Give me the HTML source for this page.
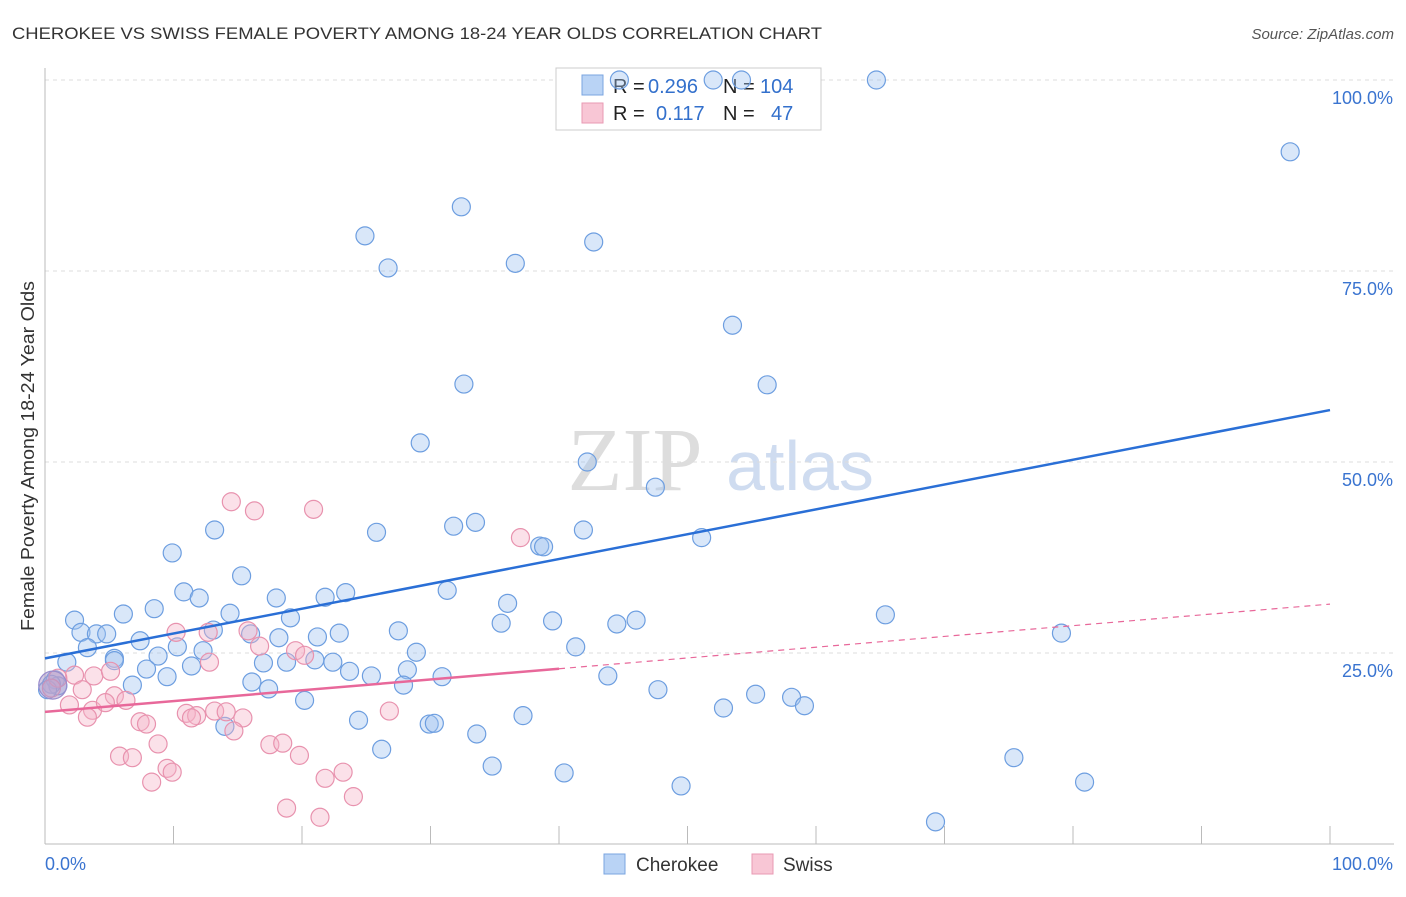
<!DOCTYPE html>
<html><head><meta charset="utf-8">
<style>
body{margin:0;background:#fff;font-family:"Liberation Sans",sans-serif;}
svg text{font-family:"Liberation Sans",sans-serif;}
</style></head>
<body>
<svg id="chart" width="1406" height="892" xmlns="http://www.w3.org/2000/svg">
<text x="12" y="39" font-size="17" fill="#333" textLength="810" lengthAdjust="spacingAndGlyphs">CHEROKEE VS SWISS FEMALE POVERTY AMONG 18-24 YEAR OLDS CORRELATION CHART</text>
<text x="1394" y="39" font-size="15" fill="#555" text-anchor="end" font-style="italic">Source: ZipAtlas.com</text>
<text x="0" y="0" transform="translate(34,456) rotate(-90)" font-size="18" fill="#333" text-anchor="middle" textLength="350" lengthAdjust="spacingAndGlyphs">Female Poverty Among 18-24 Year Olds</text>
<g>
<text x="635" y="490" font-size="90" fill="#ddd" text-anchor="middle" style="font-family:'Liberation Serif',serif">ZIP</text>
<text x="800" y="490" font-size="70" fill="#cfdcf0" text-anchor="middle">atlas</text>
</g>
<g id="grid"></g><g id="axes"></g>
<g>
<rect x="556" y="68" width="265" height="62" fill="#fff" stroke="#ccc"/>
<rect x="582" y="75" width="21" height="20" fill="#b9d3f5" stroke="#7aa5e0"/>
<text x="613" y="93" font-size="20" fill="#222">R =</text><text x="648" y="93" font-size="20" fill="#3370cc">0.296</text>
<text x="723" y="93" font-size="20" fill="#222">N =</text><text x="760" y="93" font-size="20" fill="#3370cc">104</text>
<rect x="582" y="103" width="21" height="20" fill="#f8c6d5" stroke="#e89ab3"/>
<text x="613" y="120" font-size="20" fill="#222">R =</text><text x="656" y="120" font-size="20" fill="#3370cc">0.117</text>
<text x="723" y="120" font-size="20" fill="#222">N =</text><text x="771" y="120" font-size="20" fill="#3370cc">47</text>
</g>
<g id="pts"></g><g id="lines"></g>
<g>
<rect x="604" y="854" width="21" height="20" fill="#b9d3f5" stroke="#7aa5e0"/>
<text x="636" y="871" font-size="19" fill="#333">Cherokee</text>
<rect x="752" y="854" width="21" height="20" fill="#f8c6d5" stroke="#e89ab3"/>
<text x="783" y="871" font-size="19" fill="#333">Swiss</text>
</g>
</svg>
<script>
const yTicks=[25,50,75,100];
const yTickLabels=["25.0%","50.0%","75.0%","100.0%"];
const xTickLabels=["0.0%","100.0%"];
const blueTrend=[24.3,56.8];
const pinkTrend=[17.3,31.4];
const pinkSolidEnd=40;
const blueX=[44.7,52.0,54.2,64.7,96.9,32.4,24.9,42.7,26.7,36.6,53.5,32.6,56.2,29.2,42.2,47.5,33.5,31.8,25.8,41.9,13.2,38.5,38.8,51.1,9.9,15.3,10.8,12.0,18.0,21.8,23.4,31.3,8.5,6.1,14.4,19.1,36.0,2.3,39.5,46.0,44.5,65.4,35.5,2.8,4.0,4.8,13.1,7.4,16.0,18.2,22.9,21.2,27.5,79.1,10.3,3.3,41.3,12.3,8.8,5.4,28.9,1.7,5.4,21.0,17.0,18.8,22.4,7.9,11.4,28.2,23.7,25.4,30.9,9.5,43.8,16.1,6.8,17.4,27.9,47.7,20.2,55.3,58.1,59.1,52.8,37.2,24.4,29.9,30.3,14.0,33.6,26.2,75.4,34.8,40.4,49.5,80.9,69.3,0.8,1.0,0.5,0.2];
const blueY=[100,100,100,100,90.6,83.4,79.6,78.8,75.4,76.0,67.9,60.2,60.1,52.5,50.0,46.7,42.1,41.6,40.8,41.1,41.1,39.0,38.9,40.1,38.1,35.1,33.0,32.2,32.2,32.3,32.9,33.2,30.8,30.1,30.2,29.6,31.5,29.3,29.2,29.3,28.8,30.0,28.9,27.7,27.5,27.5,28.0,26.6,27.5,27.0,27.6,27.1,27.9,27.6,25.8,25.7,25.8,25.3,24.6,24.3,25.1,23.8,24.0,24.1,23.7,23.8,23.8,22.9,23.3,22.8,22.6,22.0,21.9,21.9,22.0,21.2,20.8,20.3,20.8,20.2,18.8,19.6,19.2,18.1,17.8,16.8,16.2,15.7,15.8,15.4,14.4,12.4,11.3,10.2,9.3,7.6,8.1,2.9,21.5,20.7,20.9,20.2];
const pinkX=[14.5,16.3,20.9,37.0,10.2,12.7,15.8,16.7,19.5,20.2,12.8,2.3,1.0,3.8,2.9,5.1,1.9,3.7,5.4,3.3,6.3,4.7,7.4,7.9,11.0,11.8,11.4,13.2,14.1,15.4,14.7,26.8,8.8,5.8,6.8,9.5,9.9,17.5,18.5,19.8,8.3,21.8,23.2,24.0,18.8,21.4,0.5];
const pinkY=[44.8,43.6,43.8,40.1,27.7,27.7,27.9,25.9,25.3,24.7,23.8,22.1,21.7,22.0,20.2,22.6,18.2,17.5,19.4,16.6,18.8,18.5,16.0,15.7,17.1,16.8,16.5,17.4,17.3,16.5,14.8,17.4,13.1,11.5,11.3,9.9,9.4,13.0,13.2,11.6,8.1,8.6,9.4,6.2,4.7,3.5,20.4];
const NS="http://www.w3.org/2000/svg";
const X0=45,X1=1330,Y0=844,Y100=80;
function sx(v){return X0+(X1-X0)*v/100;}
function sy(v){return Y0-(Y0-Y100)*v/100;}
function mk(tag,attrs,parent){const e=document.createElementNS(NS,tag);for(const k in attrs)e.setAttribute(k,attrs[k]);parent.appendChild(e);return e;}
const grid=document.getElementById('grid'),axes=document.getElementById('axes'),pts=document.getElementById('pts'),lines=document.getElementById('lines');
yTicks.forEach((t,i)=>{
  const l=mk('line',{x1:X0,x2:1394,y1:sy(t),y2:sy(t),stroke:'#ddd','stroke-dasharray':'4,4'},grid);
  
  
  const tx=mk('text',{x:1393,y:sy(t)+24,'font-size':18,fill:'#3a74d0','text-anchor':'end'},axes);
  tx.textContent=yTickLabels[i];
  
  
});
const ax=mk('line',{x1:X0,x2:X0,y1:68,y2:Y0,stroke:'#bbb'},axes);


const bx=mk('line',{x1:X0,x2:1394,y1:Y0,y2:Y0,stroke:'#bbb'},axes);


for(let i=0;i<=10;i++){
  const t=mk('line',{x1:sx(i*10),x2:sx(i*10),y1:Y0-18,y2:Y0,stroke:'#bbb'},axes);
  
  
}
const xl0=mk('text',{x:45,y:870,'font-size':18,fill:'#3a74d0'},axes);xl0.textContent=xTickLabels[0];


const xl1=mk('text',{x:1393,y:870,'font-size':18,fill:'#3a74d0','text-anchor':'end'},axes);xl1.textContent=xTickLabels[1];


blueX.forEach((x,i)=>{
  const c=mk('circle',{cx:sx(x),cy:sy(blueY[i]),r:9,fill:'rgba(160,195,240,0.4)',stroke:'#6d9ee0','stroke-width':1.2},pts);
  
  
});
pinkX.forEach((x,i)=>{
  const c=mk('circle',{cx:sx(x),cy:sy(pinkY[i]),r:9,fill:'rgba(245,180,200,0.4)',stroke:'#e892ae','stroke-width':1.2},pts);
  
  
});
const big=mk('circle',{cx:sx(0.6),cy:sy(20.8),r:14,fill:'rgba(170,150,200,0.5)',stroke:'#9a8ccc','stroke-width':1.2},pts);


function tr(a,x){return a[0]+(a[1]-a[0])*x/100;}
const bl=mk('line',{x1:sx(0),y1:sy(tr(blueTrend,0)),x2:sx(100),y2:sy(tr(blueTrend,100)),stroke:'#2a6fd6','stroke-width':2.5},lines);


const pl=mk('line',{x1:sx(0),y1:sy(tr(pinkTrend,0)),x2:sx(pinkSolidEnd),y2:sy(tr(pinkTrend,pinkSolidEnd)),stroke:'#e8689a','stroke-width':2.5},lines);


const pd=mk('line',{x1:sx(pinkSolidEnd),y1:sy(tr(pinkTrend,pinkSolidEnd)),x2:sx(100),y2:sy(tr(pinkTrend,100)),stroke:'#e8689a','stroke-width':1.2,'stroke-dasharray':'6,5'},lines);


</script>
</body></html>
